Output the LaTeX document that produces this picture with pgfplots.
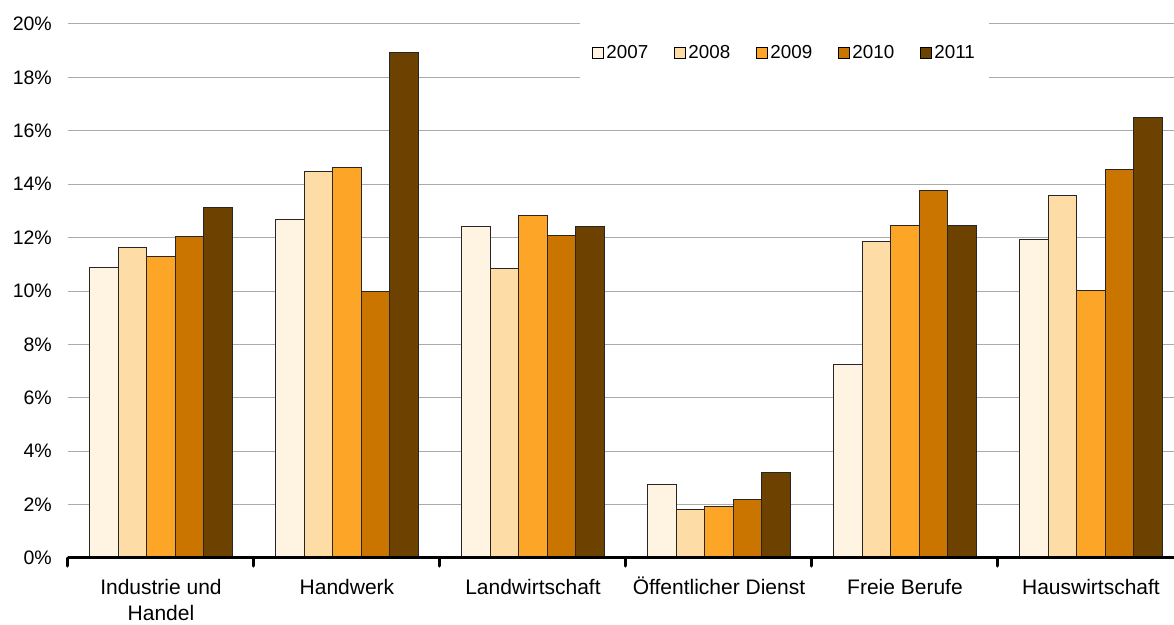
\documentclass[border=0pt]{standalone}
\usepackage{pgfplots}
\pgfplotsset{compat=1.18}
\usepackage{pgfplotstable}
\usepackage{fontspec}
\setmainfont{Liberation Sans}

\definecolor{c07}{HTML}{FFF3E1}
\definecolor{c08}{HTML}{FDDCA5}
\definecolor{c09}{HTML}{FDA526}
\definecolor{c10}{HTML}{C97500}
\definecolor{c11}{HTML}{6D4100}
\definecolor{gridgray}{HTML}{ABABAB}

% share per branch and year, in percent
\pgfplotstableread{
x   y2007 y2008 y2009 y2010 y2011
0   10.89 11.64 11.30 12.05 13.12
1   12.68 14.48 14.63  9.99 18.94
2   12.42 10.85 12.84 12.09 12.41
3    2.77  1.82  1.94  2.18  3.21
4    7.25 11.86 12.47 13.75 12.45
5   11.94 13.58 10.02 14.56 16.50
}\quoten

\pgfplotsset{
  sq legend/.style={legend image code/.code={
      \draw[##1,/tikz/.cd,draw=black,line width=0.7pt] (0pt,-5.5pt) rectangle (11pt,5.5pt);}},
  barstyle/.style={draw=black!85, line width=0.8pt, fill=#1, sq legend},
}

\begin{document}
\begin{tikzpicture}
  \begin{axis}[
      name=ax,
      scale only axis,
      width=1116pt, height=534pt,
      xmin=-0.5, xmax=5.5,
      ymin=0, ymax=20,
      ybar=0pt, bar width=28.6pt,
      axis x line*=bottom, axis y line*=left,
      y axis line style={draw=none},
      x axis line style={draw=none},
      xtick={-0.5,0.5,1.5,2.5,3.5,4.5,5.5},
      x tick label as interval,
      xticklabels={{\begin{tabular}[t]{@{}c@{}}Industrie und\\Handel\end{tabular}},
        Handwerk, Landwirtschaft,
        Öffentlicher Dienst, Freie Berufe, Hauswirtschaft},
      xtick style={draw=black, line width=3pt, line cap=round},
      xtick align=outside,
      x tick label style={font=\fontsize{21}{26}\selectfont,
        anchor=base, inner sep=0pt, yshift=-28.5pt},
      major tick length=8pt,
      ytick={0,2,...,20},
      ytick style={draw=none},
      yticklabel={\pgfmathprintnumber{\tick}\%},
      /pgf/number format/assume math mode=true,
      y tick label style={font=\fontsize{19.5}{22}\selectfont, anchor=east,
        inner sep=0pt, xshift=-16pt},
      ymajorgrids,
      grid style={gridgray, line width=1pt},
      legend columns=5,
      legend style={draw=none, fill=white,
        at={(0.4588,1.0075)}, anchor=north west,
        font=\fontsize{18.8}{22}\selectfont,
        inner xsep=12pt, inner ysep=23pt,
        nodes={inner sep=2.5pt},
        /tikz/every even column/.append style={column sep=23.5pt}},
    ]
    \addplot[barstyle=c07] table[x=x, y=y2007] {\quoten};
    \addplot[barstyle=c08] table[x=x, y=y2008] {\quoten};
    \addplot[barstyle=c09] table[x=x, y=y2009] {\quoten};
    \addplot[barstyle=c10] table[x=x, y=y2010] {\quoten};
    \addplot[barstyle=c11] table[x=x, y=y2011] {\quoten};
    \legend{2007, 2008, 2009, 2010, 2011}
    % thick base line on top of the bars
    \draw[black, line width=5pt] (rel axis cs:0,0) -- (rel axis cs:1,0);
  \end{axis}
  \pgfresetboundingbox
  \path[use as bounding box] ([xshift=-68pt,yshift=-66pt]ax.south west)
    rectangle ([xshift=1106pt,yshift=558pt]ax.south west);
\end{tikzpicture}
\end{document}
